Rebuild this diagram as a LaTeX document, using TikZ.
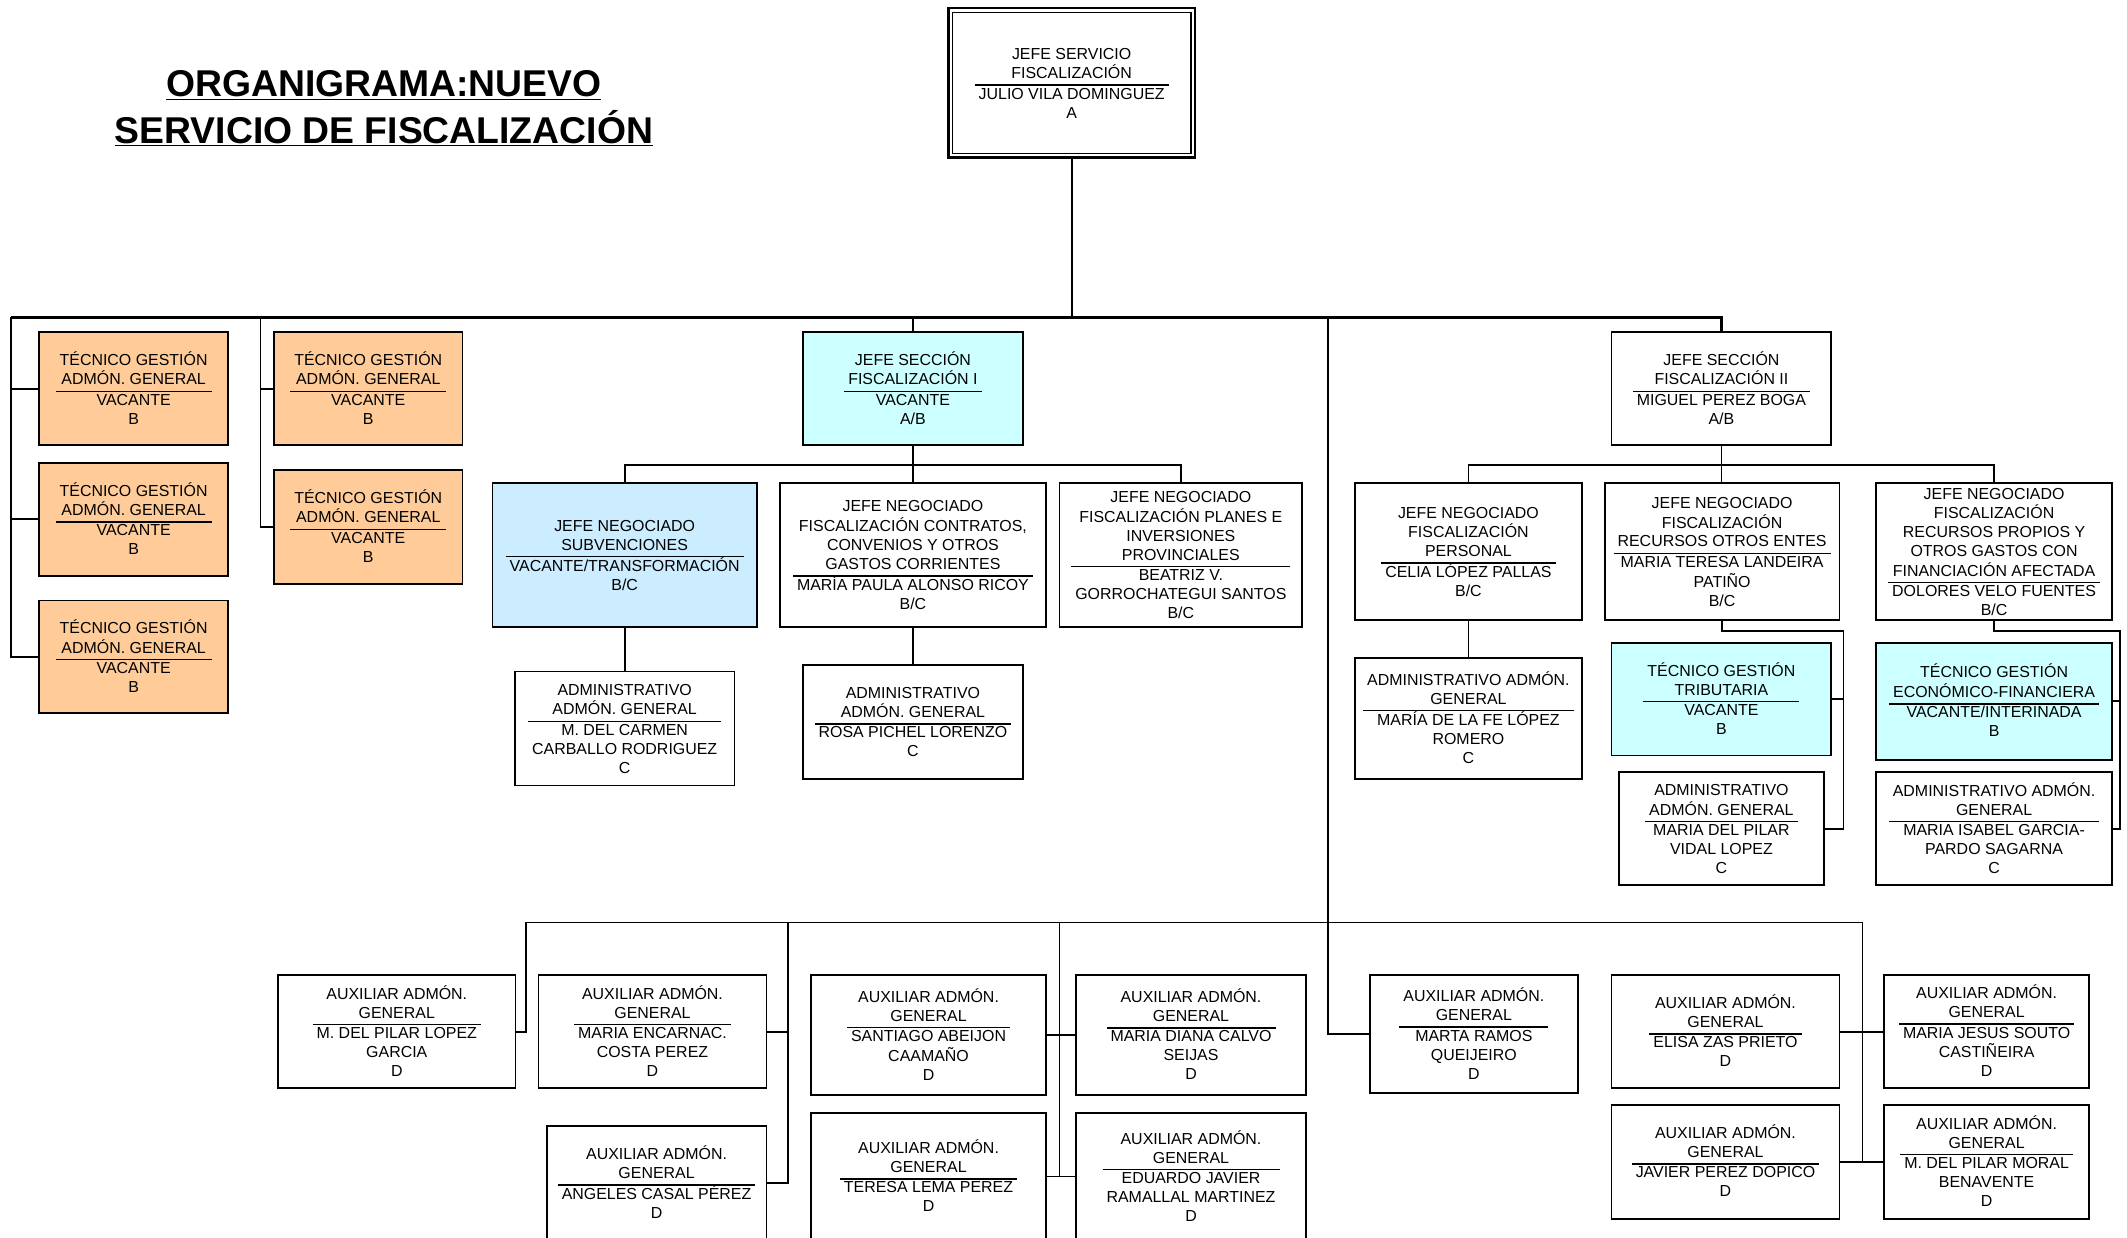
\documentclass[tikz,border=0pt]{standalone}
\usepackage{fontspec}
\setmainfont{Liberation Sans}
\usepackage{tikz}
\usetikzlibrary{positioning}

\definecolor{naranja}{HTML}{FFCC99}
\definecolor{celeste}{HTML}{CCFFFF}
\definecolor{azulclaro}{HTML}{CCECFF}

% puesto: denominacion / titular
\newcommand{\cargo}[2]{\raisebox{-1.5pt}[\height][\depth]{\begin{tabular}{@{\hspace{3pt}}c@{\hspace{3pt}}}#1\\\hline #2\end{tabular}}}
\setlength{\arrayrulewidth}{1pt}

\begin{document}
\begin{tikzpicture}[x=1pt,y=-1pt,
    puesto/.style={draw,rectangle,line width=1.35pt,inner sep=0pt,fill=white,
        font=\fontsize{11.75}{14}\selectfont},
    tam/.style 2 args={minimum width=#1pt,minimum height=#2pt},
    tecnico/.style={puesto,fill=naranja},
    vacante/.style={puesto,fill=celeste},
    linea/.style={line width=1.3pt},
    barra/.style={line width=2pt},
    titulo/.style={align=center,font=\fontsize{27.5}{34}\selectfont\bfseries}]
   \useasboundingbox (0,0) rectangle (1568,912);

   \node[titulo] (tit) at (283,80) {\underline{ORGANIGRAMA:NUEVO}\\\underline{SERVICIO DE FISCALIZACIÓN}};

   % jefe de servicio
   \node[puesto,tam={182}{110},line width=2pt] (jefe) at (790,61)
      {\cargo{JEFE SERVICIO\\FISCALIZACIÓN}{JULIO VILA DOMINGUEZ\\A}};
   \draw[line width=0.9pt] ([xshift=4pt,yshift=-4pt]jefe.north west) rectangle ([xshift=-4pt,yshift=4pt]jefe.south east);

   % tecnicos de gestion
   \node[tecnico,tam={139}{83}] (tg1) at (98.5,286.5) {\cargo{TÉCNICO GESTIÓN\\ADMÓN. GENERAL}{VACANTE\\B}};
   \node[tecnico,tam={139}{83}] (tg2) [below=12pt of tg1] {\cargo{TÉCNICO GESTIÓN\\ADMÓN. GENERAL}{VACANTE\\B}};
   \node[tecnico,tam={139}{83}] (tg3) [below=17pt of tg2] {\cargo{TÉCNICO GESTIÓN\\ADMÓN. GENERAL}{VACANTE\\B}};
   \node[tecnico,tam={139}{83}] (tg4) at (271.5,286.5) {\cargo{TÉCNICO GESTIÓN\\ADMÓN. GENERAL}{VACANTE\\B}};
   \node[tecnico,tam={139}{84}] (tg5) [below=17pt of tg4] {\cargo{TÉCNICO GESTIÓN\\ADMÓN. GENERAL}{VACANTE\\B}};

   % seccion I
   \node[vacante,tam={162}{83}] (js1) at (673,286.5) {\cargo{JEFE SECCIÓN\\FISCALIZACIÓN I}{VACANTE\\A/B}};
   \node[puesto,fill=azulclaro,tam={195}{106}] (jn1) at (460.5,409)
      {\cargo{JEFE NEGOCIADO\\SUBVENCIONES}{VACANTE/TRANSFORMACIÓN\\B/C}};
   \node[puesto,tam={196}{106}] (jn2) at (673,409)
      {\cargo{JEFE NEGOCIADO\\FISCALIZACIÓN CONTRATOS,\\CONVENIOS Y OTROS\\GASTOS CORRIENTES}{MARÍA PAULA ALONSO RICOY\\B/C}};
   \node[puesto,tam={179}{106}] (jn3) at (870.5,409)
      {\cargo{JEFE NEGOCIADO\\FISCALIZACIÓN PLANES E\\INVERSIONES\\PROVINCIALES}{BEATRIZ V.\\GORROCHATEGUI SANTOS\\B/C}};
   \node[puesto,tam={162}{84}] (adm1) at (460.5,537)
      {\cargo{ADMINISTRATIVO\\ADMÓN. GENERAL}{M. DEL CARMEN\\CARBALLO RODRIGUEZ\\C}};
   \node[puesto,tam={162}{84}] (adm2) at (673,532)
      {\cargo{ADMINISTRATIVO\\ADMÓN. GENERAL}{ROSA PICHEL LORENZO\\C}};

   % seccion II
   \node[puesto,tam={162}{83}] (js2) at (1269,286.5) {\cargo{JEFE SECCIÓN\\FISCALIZACIÓN II}{MIGUEL PEREZ BOGA\\A/B}};
   \node[puesto,tam={167}{101}] (jn4) at (1082.5,406.5)
      {\cargo{JEFE NEGOCIADO\\FISCALIZACIÓN\\PERSONAL}{CELIA LÓPEZ PALLAS\\B/C}};
   \node[puesto,tam={173}{101}] (jn5) at (1269.5,406.5)
      {\cargo{JEFE NEGOCIADO\\FISCALIZACIÓN\\RECURSOS OTROS ENTES}{MARIA TERESA LANDEIRA\\PATIÑO\\B/C}};
   \node[puesto,tam={174}{101}] (jn6) at (1470,406.5)
      {\cargo{JEFE NEGOCIADO\\FISCALIZACIÓN\\RECURSOS PROPIOS Y\\OTROS GASTOS CON\\FINANCIACIÓN AFECTADA}{DOLORES VELO FUENTES\\B/C}};
   \node[puesto,tam={167}{89}] (adm3) at (1082.5,529.5)
      {\cargo{ADMINISTRATIVO ADMÓN.\\GENERAL}{MARÍA DE LA FE LÓPEZ\\ROMERO\\C}};
   \node[vacante,tam={162}{83}] (tec1) at (1269,515.5) {\cargo{TÉCNICO GESTIÓN\\TRIBUTARIA}{VACANTE\\B}};
   \node[puesto,tam={151}{83}] (adm4) [below=11pt of tec1]
      {\cargo{ADMINISTRATIVO\\ADMÓN. GENERAL}{MARIA DEL PILAR\\VIDAL LOPEZ\\C}};
   \node[vacante,tam={174}{86}] (tec2) at (1470,517) {\cargo{TÉCNICO GESTIÓN\\ECONÓMICO-FINANCIERA}{VACANTE/INTERINADA\\B}};
   \node[puesto,tam={174}{83}] (adm5) [below=8pt of tec2]
      {\cargo{ADMINISTRATIVO ADMÓN.\\GENERAL}{MARIA ISABEL GARCIA-\\PARDO SAGARNA\\C}};

   % auxiliares
   \node[puesto,tam={175}{83}] (aux1) at (292.5,760.5) {\cargo{AUXILIAR ADMÓN.\\GENERAL}{M. DEL PILAR LOPEZ\\GARCIA\\D}};
   \node[puesto,tam={168}{83}] (aux2) at (481,760.5) {\cargo{AUXILIAR ADMÓN.\\GENERAL}{MARIA ENCARNAC.\\COSTA PEREZ\\D}};
   \node[puesto,tam={162}{84}] (aux3) at (484,872) {\cargo{AUXILIAR ADMÓN.\\GENERAL}{ANGELES CASAL PÉREZ\\D}};
   \node[puesto,tam={173}{88}] (aux4) at (684.5,763) {\cargo{AUXILIAR ADMÓN.\\GENERAL}{SANTIAGO ABEIJON\\CAAMAÑO\\D}};
   \node[puesto,tam={173}{94}] (aux5) [below=12pt of aux4] {\cargo{AUXILIAR ADMÓN.\\GENERAL}{TERESA LEMA PEREZ\\D}};
   \node[puesto,tam={170}{88}] (aux6) at (878,763) {\cargo{AUXILIAR ADMÓN.\\GENERAL}{MARIA DIANA CALVO\\SEIJAS\\D}};
   \node[puesto,tam={170}{94}] (aux7) [below=12pt of aux6] {\cargo{AUXILIAR ADMÓN.\\GENERAL}{EDUARDO JAVIER\\RAMALLAL MARTINEZ\\D}};
   \node[puesto,tam={153}{87}] (aux8) at (1086.5,762.5) {\cargo{AUXILIAR ADMÓN.\\GENERAL}{MARTA RAMOS\\QUEIJEIRO\\D}};
   \node[puesto,tam={168}{83}] (aux9) at (1272,760.5) {\cargo{AUXILIAR ADMÓN.\\GENERAL}{ELISA ZAS PRIETO\\D}};
   \node[puesto,tam={168}{84}] (aux10) [below=11pt of aux9] {\cargo{AUXILIAR ADMÓN.\\GENERAL}{JAVIER PEREZ DOPICO\\D}};
   \node[puesto,tam={151}{83}] (aux11) at (1464.5,760.5) {\cargo{AUXILIAR ADMÓN.\\GENERAL}{MARIA JESUS SOUTO\\CASTIÑEIRA\\D}};
   \node[puesto,tam={151}{84}] (aux12) [below=11pt of aux11] {\cargo{AUXILIAR ADMÓN.\\GENERAL}{M. DEL PILAR MORAL\\BENAVENTE\\D}};

   % conexiones
   \coordinate (b0) at (8,234);
   \coordinate (b1) at (192,234);
   \coordinate (b2) at (979,234);
   \draw[barra] (b0) -| (js2.north);
   \draw[linea] (jefe.south) -- (jefe.south |- b0);
   \draw[linea] (js1.north) -- (js1.north |- b0);
   \draw[linea] (b0) |- (tg3.west);
   \draw[linea] (b0 |- tg1.west) -- (tg1.west);
   \draw[linea] (b0 |- tg2.west) -- (tg2.west);
   \draw[linea] (b1) |- (tg5.west);
   \draw[linea] (b1 |- tg4.west) -- (tg4.west);
   \draw[linea] (b2) |- (aux8.west);

   \coordinate (s1) at (673,343);
   \draw[linea] (js1.south) -- (jn2.north);
   \draw[linea] (jn1.north) |- (s1) -| (jn3.north);
   \draw[linea] (jn1.south) -- (adm1.north);
   \draw[linea] (jn2.south) -- (adm2.north);

   \coordinate (s2) at (1269,343);
   \draw[linea] (js2.south) -- (js2.south |- jn5.north);
   \draw[linea] (jn4.north) |- (s2) -| (jn6.north);
   \draw[linea] (jn4.south) -- (adm3.north);
   \coordinate (r1) at (1359,465);
   \draw[linea] (jn5.south) |- (r1) |- (adm4.east);
   \draw[linea] (r1 |- tec1.east) -- (tec1.east);
   \coordinate (r2) at (1563,465);
   \draw[linea] (jn6.south) |- (r2) |- (adm5.east);
   \draw[linea] (r2 |- tec2.east) -- (tec2.east);

   \coordinate (c0) at (388,680);
   \coordinate (c1) at (581,680);
   \coordinate (c2) at (781,680);
   \coordinate (c3) at (1373,680);
   \draw[linea] (aux1.east) -| (c0) -- (c3) |- (aux10.east);
   \draw[linea] (c1) |- (aux3.east);
   \draw[linea] (aux2.east) -- (aux2.east -| c1);
   \draw[linea] (c2) -- (c2 |- aux5.east);
   \draw[linea] (aux4.east) -- (aux6.west);
   \draw[linea] (aux5.east) -- (aux7.west);
   \draw[linea] (aux9.east) -- (aux11.west);
   \draw[linea] (aux10.east) -- (aux12.west);
\end{tikzpicture}
\end{document}
